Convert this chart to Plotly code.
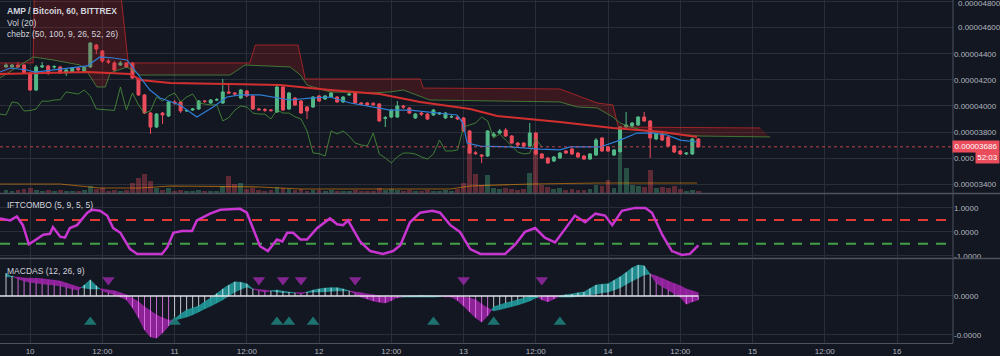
import plotly.graph_objects as go

# ---------------- data (prices in satoshi = 1e-8 BTC) ----------------
hours = list(range(-4, 112))  # hours from day 10 00:00

opens = [4300, 4300, 4315, 4315, 4254, 4123, 4300, 4308, 4300, 4300,
         4254, 4261, 4292, 4261, 4300, 4469, 4423, 4346, 4331, 4315,
         4331, 4331, 4208, 4085, 3946, 3838, 3946, 3923, 4031, 4031,
         3962, 3969, 3977, 4038, 4023, 4046, 4023, 4108, 4100, 4061,
         4115, 4077, 3977, 3972, 3970, 3954, 4146, 3977, 4061, 4038,
         3992, 3992, 4077, 4054, 4069, 4069, 4031, 4085, 4100, 4023,
         4023, 4020, 4015, 3905, 3915, 3915, 4000, 3985, 3908, 3946,
         3938, 3931, 3938, 3908, 3915, 3915, 3908, 3808, 3640, 3623,
         3615, 3769, 3792, 3815, 3769, 3715, 3715, 3692, 3792, 3631,
         3600, 3577, 3600, 3654, 3669, 3638, 3615, 3592, 3623, 3754,
         3685, 3623, 3646, 3838, 3846, 3854, 3915, 3885, 3746, 3785,
         3762, 3692, 3654, 3631, 3631, 3746]
highs = [4330, 4323, 4338, 4323, 4262, 4315, 4338, 4315, 4315, 4308,
         4285, 4300, 4300, 4308, 4492, 4477, 4431, 4362, 4346, 4346,
         4338, 4338, 4215, 4092, 3954, 3946, 3954, 4038, 4046, 4038,
         3977, 3985, 4046, 4046, 4054, 4061, 4208, 4170, 4108, 4131,
         4123, 4085, 3985, 3985, 3977, 4170, 4154, 4108, 4069, 4046,
         4000, 4077, 4085, 4085, 4108, 4077, 4077, 4100, 4108, 4031,
         4031, 4031, 4023, 3923, 3977, 4038, 4008, 3992, 3946, 3954,
         3946, 3977, 3954, 3954, 3931, 3923, 3915, 3815, 3654, 3631,
         3815, 3800, 3823, 3831, 3777, 3723, 3723, 3869, 3800, 3638,
         3608, 3615, 3646, 3662, 3677, 3646, 3623, 3638, 3754, 3762,
         3692, 3669, 3846, 3954, 3877, 3923, 3954, 3892, 3792, 3792,
         3769, 3700, 3662, 3646, 3754, 3754]
lows = [4292, 4292, 4292, 4246, 4115, 4115, 4292, 4238, 4285, 4246,
        4231, 4254, 4269, 4254, 4292, 4400, 4331, 4323, 4269, 4308,
        4292, 4208, 4077, 3938, 3785, 3831, 3862, 3915, 4008, 3946,
        3954, 3962, 3969, 4023, 4015, 4038, 4015, 4092, 4077, 4054,
        4069, 3969, 3962, 3954, 3954, 3946, 3962, 3969, 4000, 3938,
        3900, 3985, 4031, 4046, 4061, 4023, 4023, 4077, 4015, 4008,
        4000, 4000, 3877, 3838, 3908, 3908, 3977, 3938, 3900, 3923,
        3892, 3923, 3931, 3900, 3908, 3892, 3800, 3631, 3623, 3562,
        3608, 3762, 3785, 3762, 3708, 3692, 3685, 3685, 3623, 3592,
        3554, 3569, 3592, 3631, 3623, 3600, 3585, 3585, 3615, 3646,
        3646, 3615, 3638, 3831, 3838, 3846, 3877, 3600, 3738, 3731,
        3685, 3638, 3623, 3623, 3623, 3677]
closes = [4315, 4315, 4300, 4254, 4123, 4300, 4308, 4254, 4302, 4254,
          4277, 4292, 4277, 4300, 4484, 4438, 4346, 4338, 4277, 4331,
          4300, 4215, 4085, 3946, 3838, 3938, 3931, 4031, 4023, 3962,
          3965, 3977, 4038, 4036, 4046, 4048, 4108, 4100, 4092, 4123,
          4077, 3977, 3972, 3968, 3966, 4146, 3969, 4100, 4008, 3946,
          3962, 4069, 4038, 4077, 4100, 4031, 4069, 4092, 4023, 4015,
          4008, 4010, 3885, 3910, 3969, 4000, 3992, 3946, 3938, 3938,
          3900, 3969, 3946, 3946, 3917, 3900, 3808, 3638, 3634, 3615,
          3808, 3785, 3808, 3769, 3715, 3700, 3692, 3792, 3631, 3600,
          3562, 3608, 3638, 3638, 3631, 3608, 3592, 3631, 3738, 3654,
          3654, 3662, 3838, 3854, 3869, 3915, 3885, 3754, 3785, 3738,
          3692, 3646, 3631, 3638, 3746, 3686]
volume = [3, 2, 3, 4, 5, 3, 2, 3, 2, 3,
          2, 2, 2, 3, 7, 4, 5, 2, 3, 2,
          3, 10, 15, 19, 12, 5, 3, 5, 2, 3,
          2, 2, 3, 2, 2, 2, 7, 17, 9, 10,
          4, 5, 3, 2, 3, 6, 5, 4, 3, 4,
          2, 3, 3, 2, 3, 2, 2, 2, 3, 2,
          2, 2, 5, 3, 4, 3, 2, 3, 2, 2,
          3, 2, 2, 3, 2, 4, 10, 45, 19, 8,
          18, 5, 4, 5, 4, 3, 4, 20, 42, 8,
          6, 4, 5, 3, 4, 3, 3, 4, 8, 7,
          13, 5, 40, 25, 8, 7, 6, 23, 5, 6,
          5, 7, 4, 2, 3, 2]
vol_ma_h = [-5, 5, 11.6, 18.3, 23.3, 38.2, 44.9, 69.8, 73.1, 83.1, 94.7, 110.8]
vol_ma_v = [9, 9, 5, 5, 7, 6, 4, 4, 7, 9, 10, 10]

conv_h = [-5, -3.3, -0.5, 0.8, 5, 9.5, 11.6, 13.8, 16.1, 18.3, 19.9, 21.6, 24.9, 27.7,
          30.4, 32.7, 34.9, 38.2, 43.2, 46.5, 49.8, 53.2, 57.6, 59.8, 63.1, 67.6, 70.9,
          71.9, 72.6, 74.8, 79.7, 84.7, 88, 89.7, 94.7, 98, 100.8, 103.5, 105.8, 108, 110.8]
conv_v = [4261, 4292, 4277, 4261, 4284, 4308, 4377, 4369, 4354, 4215, 4123, 4061, 4008, 3915,
          3992, 4069, 4085, 4085, 4046, 4061, 4069, 4023, 3985, 3969, 3969, 3946, 3931,
          3869, 3715, 3692, 3685, 3669, 3662, 3685, 3685, 3738, 3792, 3792, 3777, 3738, 3723]

base_h = [-5, 9.5, 16.6, 18.3, 23.3, 34.9, 41.5, 49.8, 58.1, 64.8, 73.1, 77.6, 88, 96.8, 105.1, 110.8]
base_v = [4246, 4261, 4246, 4200, 4177, 4169, 4161, 4123, 4092, 4031, 3977, 3923, 3877, 3831, 3800, 3762]

span_b_h = [-5, 0.5, 0.7, 15, 16.3, 36.5, 37.4, 44.5, 45.7, 64.8, 65.3, 88, 94.2, 96.8, 97.7, 121.3]
span_b_v = [4331, 4331, 4892, 4892, 4331, 4331, 4469, 4469, 4208, 4208, 4138, 4131, 4023, 4008, 3838, 3831]
span_a_h = [-5, 0.5, 3.8, 8.3, 9.6, 11.1, 12.5, 13.3, 16.1, 18.3, 33.2, 35.7, 43.2, 44.9, 46,
            49.8, 56.5, 59.8, 62, 66.4, 88, 90.9, 94.2, 96.8, 98, 99.7, 103, 111.3, 122.9]
span_a_v = [4215, 4377, 4354, 4315, 4254, 4146, 4146, 4254, 4300, 4238, 4238, 4315, 4300, 4238, 4161,
            4108, 4100, 4108, 4123, 4046, 4031, 3992, 3985, 3915, 3869, 3838, 3800, 3769, 3762]
lag_shift = 26
last_price = 3686
countdown = "52:03"

ift_h = [-5, -3.3, -2.2, -1.2, -0.2, 2.2, 3.3, 3.8, 5, 5.8, 6.6, 7.8, 9.5, 10.3, 11.6, 12.8, 13.8,
         15, 16.6, 17.8, 21.9, 22.8, 23.8, 25.2, 26.9, 27.7, 29.9, 31.6, 34.9, 36, 37, 38.2, 39.5,
         41, 41.9, 42.7, 43.7, 44.9, 46, 47.7, 49.8, 51, 52, 52.8, 54.8, 56.5, 58.6, 60.3, 61.5,
         63.1, 64.8, 66.8, 68.1, 69.8, 71.4, 73.1, 74.8, 78.9, 80.6, 82.2, 83.9, 85.5, 87.2, 88.9,
         90.5, 92.2, 93.9, 95.5, 96.7, 98.3, 100.5, 102.2, 103.3, 105, 106.6, 108.3, 109.6, 111]
ift_v = [0.56, 0.48, 0.64, 0.28, -0.52, -0.12, -0.08, 0.2, -0.2, -0.24, 0.16, 0.28, 0.8, 0.92, 0.88,
         0.68, 0.16, -0.04, -0.72, -0.92, -0.92, -0.64, -0.04, 0.04, 0.04, 0.48, 0.76, 0.92, 0.96,
         0.8, 0.16, -0.6, -0.8, -0.32, -0.4, -0.04, -0.04, -0.32, -0.32, 0.16, 0.56, 0.32, 0.28,
         0.48, -0.4, -0.8, -0.92, -0.8, -0.56, 0.4, 0.8, 0.88, 0.8, 0.28, 0, -0.72, -0.92, -0.92,
         -0.52, 0, 0.16, -0.24, -0.44, 0.16, 0.68, 0.4, 0.76, 0.68, 0.28, 0.88, 1.0, 1.0, 0.8,
         -0.12, -0.8, -0.96, -0.92, -0.56]
ift_upper = 0.5
ift_lower = -0.5

macd = [5.8, 5.1, 4.4, 3.8, 3.5, 3.3, 3.1, 2.9, 2.8, 2.6,
        2.2, 1.8, 1.5, 2.8, 4.1, 2.6, 1.3, 0.8, 0.3, -0.3,
        -1.0, -3.0, -5.6, -8.7, -10.5, -10.8, -9.5, -7.7, -5.9, -4.6,
        -3.6, -3.1, -2.6, -1.5, -0.5, 0.6, 1.8, 2.8, 3.6, 3.5,
        3.1, 1.8, 1.3, 1.0, 1.3, 1.5, 1.2, 1.0, 0.8, 0.5,
        1.0, 1.5, 1.8, 2.0, 2.1, 2.1, 1.8, 1.3, 0.5, -0.3,
        -0.8, -1.3, -1.6, -1.8, -1.2, -0.5, -0.2, 0.0, 0.0, 0.1,
        0.0, 0.0, -0.1, -0.2, -0.3, -1.2, -2.6, -4.1, -5.6, -6.7,
        -5.1, -2.8, -2.3, -1.8, -1.4, -1.0, -0.5, 0.0, 0.0, -1.0,
        -1.5, -0.8, 0.0, 0.3, 0.5, 0.8, 1.0, 1.9, 2.8, 3.0,
        3.1, 4.0, 4.9, 6.0, 7.2, 7.9, 7.7, 5.6, 3.3, 2.4,
        1.5, 0.6, -0.3, -2.1, -1.5, -1.0]
signal = [4.9, 4.9, 4.8, 4.6, 4.5, 4.5, 4.4, 4.2, 4.0, 3.8,
          3.3, 2.8, 2.3, 2.0, 1.8, 1.8, 1.8, 1.5, 1.3, 0.8,
          0.3, -0.6, -1.5, -2.8, -3.8, -4.9, -5.6, -6.2, -6.2, -5.8,
          -5.4, -4.8, -4.1, -3.3, -2.6, -1.8, -1.0, 0.0, 1.0, 1.7,
          2.3, 1.8, 1.6, 1.5, 1.2, 1.0, 0.9, 0.8, 0.8, 0.8,
          0.9, 1.0, 1.0, 1.1, 1.2, 1.3, 1.3, 1.3, 1.0, 0.8,
          0.5, 0.3, 0.0, -0.3, -0.3, -0.3, -0.3, -0.3, -0.3, -0.3,
          -0.3, -0.3, -0.2, -0.1, 0.0, -0.1, -0.3, -0.5, -1.0, -2.1,
          -3.1, -3.8, -3.5, -3.1, -2.7, -2.3, -1.8, -1.3, -0.5, -0.3,
          0.0, 0.0, -0.3, -0.3, -0.3, -0.1, 0.0, 0.3, 0.5, 0.8,
          1.0, 1.5, 2.1, 3.0, 3.8, 4.6, 5.4, 5.6, 5.1, 4.5,
          3.8, 3.2, 2.6, 1.8, 1.3, 0.8]
macd_sell_h = [13, 38, 42, 45, 54, 72, 85]
macd_buy_h = [10, 24, 41, 43, 47, 67, 77, 88]

day_ticks = [0, 12, 24, 36, 48, 60, 72, 84, 96, 108, 120, 132, 144]
day_labels = ["10", "12:00", "11", "12:00", "12", "12:00", "13", "12:00", "14", "12:00", "15", "12:00", "16"]
price_ticks = [3400, 3600, 3800, 4000, 4200, 4400]
price_labels = ["0.00003400", "0.000", "0.00003800", "0.00004000", "0.00004200", "0.00004400"]
top_ticks = [4600, 4800]
top_labels = ["0.00004600", "0.00004800"]

# ---------------- styles ----------------
SAT = 1e-8
BG = "#131722"
GRID = "#2a2e39"
AXIS = "#4c525e"
TXT = "#b2b5be"
FONT = "Liberation Sans"
UP = "#53b987"
DN = "#eb4d5c"

def sat(vals):
    return [v * SAT for v in vals]

fig = go.Figure()

# --- Cloud (span B then span A filled to it)
fig.add_trace(go.Scatter(x=span_b_h, y=sat(span_b_v), mode="lines",
                         line=dict(color="rgba(198,40,40,0.75)", width=1), hoverinfo="skip"))
fig.add_trace(go.Scatter(x=span_a_h, y=sat(span_a_v), mode="lines", fill="tonexty",
                         fillcolor="rgba(183,28,28,0.24)",
                         line=dict(color="rgba(76,150,60,0.75)", width=1), hoverinfo="skip"))
# --- Lagging span (close shifted back)
fig.add_trace(go.Scatter(x=[h - lag_shift for h in hours], y=sat(closes), mode="lines",
                         line=dict(color="rgba(76,150,60,0.8)", width=1), hoverinfo="skip"))
# --- Base line & conversion line
fig.add_trace(go.Scatter(x=base_h, y=sat(base_v), mode="lines",
                         line=dict(color="#d32f2f", width=2), hoverinfo="skip"))
fig.add_trace(go.Scatter(x=conv_h, y=sat(conv_v), mode="lines",
                         line=dict(color="#2f7fd8", width=1.2), hoverinfo="skip"))
# --- Last price dotted line
fig.add_trace(go.Scatter(x=[-5, 153.3], y=sat([last_price, last_price]), mode="lines",
                         line=dict(color="rgba(235,77,92,0.8)", width=1, dash="dot"), hoverinfo="skip"))
# --- Candles
fig.add_trace(go.Candlestick(x=hours, open=sat(opens), high=sat(highs), low=sat(lows), close=sat(closes),
                             increasing=dict(line=dict(color=UP, width=1), fillcolor=UP),
                             decreasing=dict(line=dict(color=DN, width=1), fillcolor=DN),
                             whiskerwidth=0, hoverinfo="skip"))
# --- Volume (overlay axis)
vcolors = ["rgba(83,185,135,0.35)" if c >= o else "rgba(235,77,92,0.35)" for o, c in zip(opens, closes)]
fig.add_trace(go.Bar(x=hours, y=volume, marker=dict(color=vcolors, line=dict(width=0)), width=0.8,
                     yaxis="y2", hoverinfo="skip"))
fig.add_trace(go.Scatter(x=vol_ma_h, y=vol_ma_v, mode="lines", yaxis="y2",
                         line=dict(color="rgba(255,152,0,0.55)", width=1.2), hoverinfo="skip"))

# --- IFT pane
fig.add_trace(go.Scatter(x=[-5, 153.3], y=[ift_upper, ift_upper], yaxis="y3", mode="lines",
                         line=dict(color="#e53935", width=2, dash="10px,8px"), hoverinfo="skip"))
fig.add_trace(go.Scatter(x=[-5, 153.3], y=[ift_lower, ift_lower], yaxis="y3", mode="lines",
                         line=dict(color="#43a047", width=2, dash="10px,8px"), hoverinfo="skip"))
fig.add_trace(go.Scatter(x=ift_h, y=ift_v, yaxis="y3", mode="lines",
                         line=dict(color="#c935d0", width=2.5), hoverinfo="skip"))

# --- MACD pane: two-colour fill between macd and signal
tx, ty, mx, my = [], [], [], []
for i in range(len(hours) - 1):
    x0, x1 = hours[i], hours[i + 1]
    d0 = macd[i] - signal[i]
    d1 = macd[i + 1] - signal[i + 1]
    polys = []
    if d0 * d1 < 0:
        t = d0 / (d0 - d1)
        xc = x0 + t * (x1 - x0)
        yc = macd[i] + t * (macd[i + 1] - macd[i])
        polys.append(([x0, xc, x0, x0], [macd[i], yc, signal[i], macd[i]], d0))
        polys.append(([xc, x1, x1, xc], [yc, macd[i + 1], signal[i + 1], yc], d1))
    else:
        polys.append(([x0, x1, x1, x0, x0], [macd[i], macd[i + 1], signal[i + 1], signal[i], macd[i]], d0 + d1))
    for px, pyv, d in polys:
        if d >= 0:
            tx += px + [None]; ty += pyv + [None]
        else:
            mx += px + [None]; my += pyv + [None]
fig.add_trace(go.Scatter(x=tx, y=ty, yaxis="y4", mode="lines", fill="toself",
                         fillcolor="rgba(38,178,178,0.75)", line=dict(width=0.5, color="rgba(38,178,178,0.9)"),
                         hoverinfo="skip"))
fig.add_trace(go.Scatter(x=mx, y=my, yaxis="y4", mode="lines", fill="toself",
                         fillcolor="rgba(180,40,190,0.75)", line=dict(width=0.5, color="rgba(180,40,190,0.9)"),
                         hoverinfo="skip"))
# histogram lines
hx_w, hy_w, hx_m, hy_m = [], [], [], []
for h, m, s in zip(hours, macd, signal):
    if m >= s:
        hx_w += [h, h, None]; hy_w += [0, m, None]
    else:
        hx_m += [h, h, None]; hy_m += [0, m, None]
fig.add_trace(go.Scatter(x=hx_w, y=hy_w, yaxis="y4", mode="lines",
                         line=dict(color="rgba(225,228,235,0.85)", width=1), hoverinfo="skip"))
fig.add_trace(go.Scatter(x=hx_m, y=hy_m, yaxis="y4", mode="lines",
                         line=dict(color="rgba(225,120,230,0.85)", width=1), hoverinfo="skip"))
fig.add_trace(go.Scatter(x=[hours[0] - 1, hours[-1]], y=[0, 0], yaxis="y4", mode="lines",
                         line=dict(color="rgba(235,235,240,0.95)", width=1.5), hoverinfo="skip"))
fig.add_trace(go.Scatter(x=macd_sell_h, y=[4.1] * len(macd_sell_h), yaxis="y4", mode="markers",
                         marker=dict(symbol="triangle-down", size=11, color="rgba(150,40,165,0.85)"),
                         hoverinfo="skip"))
fig.add_trace(go.Scatter(x=macd_buy_h, y=[-6.7] * len(macd_buy_h), yaxis="y4", mode="markers",
                         marker=dict(symbol="triangle-up", size=11, color="rgba(32,130,125,0.85)"),
                         hoverinfo="skip"))

# ---------------- layout ----------------
H = 343.0
def py(px):
    return 1 - px / H

tickfont = dict(size=8, color=TXT, family=FONT)
yax_common = dict(side="right", anchor="x", showgrid=True, gridcolor=GRID, gridwidth=1, zeroline=False,
                  ticks="", tickfont=tickfont, showline=False, fixedrange=True)

fig.update_layout(
    width=1000, height=356,
    margin=dict(l=0, r=47, t=0, b=13),
    paper_bgcolor=BG, plot_bgcolor=BG,
    showlegend=False,
    xaxis=dict(domain=[0, 1], range=[-5, 153.3], anchor="y4", tickvals=day_ticks, ticktext=day_labels,
               showgrid=True, gridcolor=GRID, gridwidth=1, zeroline=False, showline=True, linecolor=AXIS,
               ticks="", tickfont=tickfont, rangeslider=dict(visible=False), fixedrange=True),
    yaxis=dict(domain=[py(193), 1], range=[3331 * SAT, 4815 * SAT],
               tickvals=sat(price_ticks + top_ticks), ticktext=price_labels + ["", ""], **yax_common),
    yaxis2=dict(overlaying="y", anchor="x", range=[0, 193], visible=False, fixedrange=True),
    yaxis3=dict(domain=[py(258), py(194)], range=[-1.09, 1.58], tickvals=[-1, 0, 1],
                ticktext=["-1.0000", "0.0000", "1.0000"], **yax_common),
    yaxis4=dict(domain=[0, py(260)], range=[-12.05, 9.2], tickvals=[-10, 0],
                ticktext=["-0.0000", "0.0000"], **yax_common),
    bargap=0,
)

RX = 1000 / 953.0
shapes = [
    dict(type="line", xref="paper", yref="paper", x0=0, x1=RX, y0=py(193.5), y1=py(193.5),
         line=dict(color=AXIS, width=1.5)),
    dict(type="line", xref="paper", yref="paper", x0=0, x1=RX, y0=py(258.5), y1=py(258.5),
         line=dict(color=AXIS, width=1.5)),
    dict(type="line", xref="paper", yref="paper", x0=1, x1=1, y0=0, y1=1,
         line=dict(color=AXIS, width=1)),
]
fig.update_layout(shapes=shapes)

LEG = "#d1d4dc"
annotations = [
    dict(text="<b>AMP / Bitcoin, 60, BITTREX</b>", x=5 / 953, y=py(10.5), xref="paper", yref="paper",
         xanchor="left", yanchor="middle", showarrow=False, font=dict(size=8.5, color=LEG, family=FONT)),
    dict(text="Vol (20)", x=5 / 953, y=py(23), xref="paper", yref="paper",
         xanchor="left", yanchor="middle", showarrow=False, font=dict(size=8.5, color=LEG, family=FONT)),
    dict(text="chebz (50, 100, 9, 26, 52, 26)", x=5 / 953, y=py(34), xref="paper", yref="paper",
         xanchor="left", yanchor="middle", showarrow=False, font=dict(size=8.5, color=LEG, family=FONT)),
    dict(text="IFTCOMBO (5, 9, 5, 5)", x=5 / 953, y=py(205), xref="paper", yref="paper",
         xanchor="left", yanchor="middle", showarrow=False, font=dict(size=8.5, color=LEG, family=FONT)),
    dict(text="MACDAS (12, 26, 9)", x=5 / 953, y=py(271), xref="paper", yref="paper",
         xanchor="left", yanchor="middle", showarrow=False, font=dict(size=8.5, color=LEG, family=FONT)),
    dict(text="0.0000%d" % last_price, x=RX, y=last_price * SAT, xref="paper", yref="y",
         xanchor="right", yanchor="middle", showarrow=False, bgcolor=DN, borderpad=1,
         font=dict(size=8, color="#ffffff", family=FONT), width=44),
    dict(text=countdown, x=RX, y=py(157), xref="paper", yref="paper",
         xanchor="right", yanchor="middle", showarrow=False, bgcolor=DN, borderpad=1,
         font=dict(size=8, color="#ffffff", family=FONT), width=21),
]
for tv, tl in zip(top_ticks, top_labels):
    annotations.append(dict(text=tl, x=1 + 3 / 953, y=tv * SAT, xref="paper", yref="y",
                            xanchor="left", yanchor="middle", showarrow=False, font=tickfont,
                            yshift=-2 if tv == 4800 else 0))
fig.update_layout(annotations=annotations)

fig.write_html("out.html", config={"displayModeBar": False},
               post_script="document.body.style.margin='0';document.body.style.background='%s';" % BG)
